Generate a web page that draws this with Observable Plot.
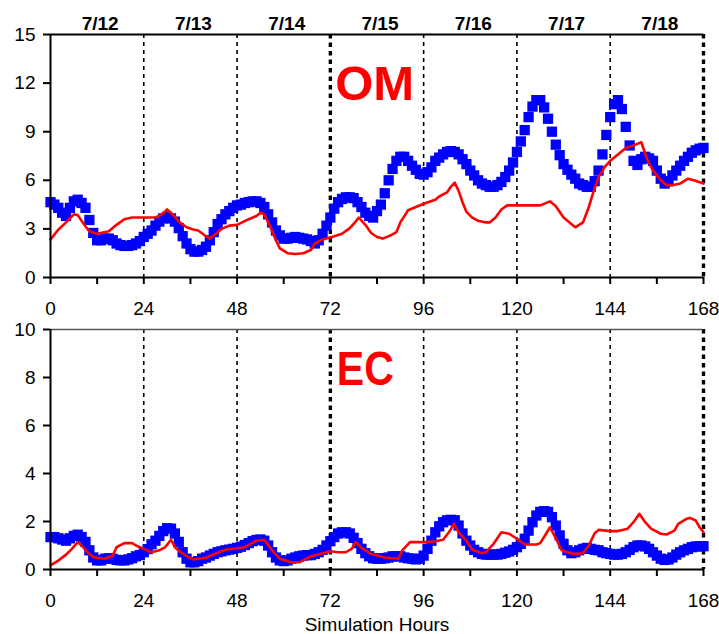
<!DOCTYPE html>
<html><head><meta charset="utf-8">
<script src="https://cdn.jsdelivr.net/npm/d3@7"></script>
<script src="https://cdn.jsdelivr.net/npm/@observablehq/plot@0.6"></script>
<style>body{margin:0;background:#fff} svg{display:block}</style>
</head><body><div id="chart"></div>
<script>
const hourTicks = [0, 24, 48, 72, 96, 120, 144, 168];
const minorTicks = [0, 12, 24, 36, 48, 60, 72, 84, 96, 108, 120, 132, 144, 156, 168];
const thinDayLines = [24, 48, 96, 120, 144];
const boldDayLines = [72, 168];
const dayLabels = ["7/12", "7/13", "7/14", "7/15", "7/16", "7/17", "7/18"];
const dayCenters = [12, 36, 60, 84, 108, 132, 156];
const omTicks = [0, 3, 6, 9, 12, 15];
const ecTicks = [0, 2, 4, 6, 8, 10];

// observed OM, hourly 0..168
const omObs = [4.65,4.5,4.3,4.0,3.8,4.3,4.7,4.8,4.6,4.3,3.55,2.75,2.3,2.3,2.4,2.4,2.3,2.1,2.0,1.95,
1.95,2.0,2.1,2.25,2.5,2.7,2.9,3.2,3.45,3.65,3.75,3.65,3.45,3.05,2.55,2.1,1.75,1.6,1.6,1.7,
1.9,2.3,2.8,3.3,3.6,3.9,4.1,4.3,4.45,4.5,4.6,4.65,4.7,4.7,4.6,4.35,3.9,3.4,2.9,2.6,
2.4,2.4,2.45,2.5,2.45,2.4,2.35,2.25,2.1,2.3,2.7,3.2,3.7,4.25,4.65,4.85,4.95,4.95,4.9,4.65,
4.35,4.0,3.8,3.7,4.1,4.5,5.2,6.0,6.7,7.2,7.45,7.45,7.2,6.9,6.65,6.4,6.35,6.5,6.8,7.2,
7.4,7.6,7.75,7.8,7.75,7.6,7.3,7.0,6.6,6.3,6.0,5.8,5.7,5.6,5.6,5.7,5.9,6.2,6.6,7.1,
7.75,8.4,9.1,9.9,10.55,10.95,10.95,10.5,9.8,9.0,8.2,7.55,7.0,6.65,6.35,6.1,5.8,5.7,5.6,5.6,
5.95,6.6,7.6,8.8,9.9,10.7,10.95,10.4,9.3,8.15,7.2,6.95,7.3,7.45,7.35,7.2,6.6,6.1,5.8,5.95,
6.3,6.6,6.9,7.2,7.45,7.7,7.85,7.95,8.0];

// observed EC, hourly 0..168
const ecObs = [1.35,1.35,1.3,1.25,1.2,1.3,1.4,1.45,1.35,1.15,0.8,0.5,0.38,0.38,0.45,0.47,0.45,0.4,0.38,0.38,
0.42,0.47,0.55,0.6,0.72,0.85,1.05,1.2,1.4,1.6,1.72,1.7,1.5,1.15,0.72,0.45,0.3,0.3,0.35,0.45,
0.5,0.58,0.65,0.72,0.76,0.8,0.83,0.86,0.9,0.95,1.02,1.1,1.18,1.23,1.25,1.2,1.0,0.72,0.5,0.38,
0.35,0.38,0.45,0.5,0.55,0.58,0.6,0.6,0.65,0.72,0.82,1.0,1.18,1.35,1.5,1.55,1.55,1.5,1.32,1.1,
0.86,0.68,0.55,0.47,0.45,0.45,0.47,0.5,0.55,0.55,0.55,0.5,0.47,0.45,0.42,0.45,0.58,0.86,1.2,1.55,
1.8,1.97,2.05,2.07,2.05,1.83,1.5,1.2,1.0,0.82,0.72,0.65,0.62,0.62,0.62,0.62,0.65,0.7,0.75,0.82,
0.93,1.07,1.28,1.62,1.97,2.25,2.4,2.43,2.4,2.18,1.83,1.42,1.07,0.8,0.68,0.72,0.8,0.86,0.9,0.86,
0.82,0.8,0.72,0.68,0.65,0.62,0.62,0.65,0.72,0.82,0.93,1.0,1.0,0.96,0.86,0.72,0.58,0.45,0.4,0.42,
0.5,0.62,0.72,0.8,0.86,0.93,0.96,0.97,0.97,0.96];

// modeled OM [hour, value]
const omModel = [[0,2.35],[2,2.95],[4,3.4],[6,3.9],[7,3.85],[9,3.15],[10,2.85],[12,2.7],[15,2.85],[17,3.25],[19,3.6],[21,3.7],[27,3.7],[29,3.95],[30,4.2],[32,3.75],[33,3.45],[35,3.1],[37,2.95],[38,2.9],[40,2.55],[41,2.4],[42,2.6],[44,3.0],[46,3.2],[48,3.25],[51,3.6],[53,3.8],[54,4.0],[55,3.9],[56.5,3.15],[58,2.3],[59,1.8],[61,1.5],[63,1.45],[65,1.5],[67,1.7],[68,2.1],[70,2.35],[73,2.55],[75,2.7],[77,3.05],[78.5,3.45],[79.3,3.7],[81,3.25],[82.5,2.75],[84,2.5],[85.5,2.4],[87.5,2.6],[89,2.8],[90,3.4],[92,4.15],[94,4.35],[96,4.55],[99,4.8],[100,5.0],[102,5.25],[103,5.6],[104,5.85],[105,5.35],[106,4.65],[107,4.05],[108.5,3.7],[110,3.5],[112,3.4],[113,3.4],[114.5,3.7],[116,4.2],[117.5,4.45],[126,4.45],[128.5,4.7],[130,4.4],[132,3.7],[134,3.3],[135,3.1],[137,3.4],[138.5,4.35],[139.5,5.15],[141,6.2],[142.5,6.8],[144,7.2],[146,7.6],[148,8.0],[150.5,8.2],[152,8.35],[153.5,7.3],[155,6.6],[157,6.0],[158.5,5.7],[160,5.7],[162,5.8],[164,6.1],[165.5,6.0],[168,5.8]];

// modeled EC [hour, value]
const ecModel = [[0,0.17],[2,0.37],[4,0.62],[5.5,0.86],[7,1.14],[8,1.0],[9.5,0.72],[11,0.51],[14,0.45],[16,0.58],[17,0.93],[19,1.1],[21,1.1],[22,1.0],[24,0.86],[26,0.72],[28,0.8],[29.5,0.93],[31,1.24],[32,0.93],[33.5,0.72],[35.5,0.51],[37,0.42],[40,0.5],[45,0.82],[50,0.93],[53,1.2],[55,1.24],[57,0.8],[59,0.45],[62,0.3],[64,0.3],[67,0.55],[72,0.76],[74,0.72],[76,0.72],[77.5,0.86],[78.5,1.14],[80,0.9],[82.5,0.65],[86,0.5],[89.5,0.45],[90.5,0.8],[92.5,1.14],[96.5,1.14],[99,1.18],[101,1.24],[102.5,1.55],[103.8,1.9],[105,1.55],[107,1.2],[108.5,0.82],[111,0.68],[112,0.72],[114,1.07],[116,1.55],[118,1.49],[120,1.28],[122,1.04],[125,1.04],[126,1.1],[127.5,1.49],[128.5,1.76],[130,1.3],[131.5,0.8],[134.5,0.65],[137,0.68],[138.5,1.0],[140,1.51],[141,1.65],[144,1.6],[146,1.6],[148.5,1.7],[150,1.97],[151.5,2.32],[153,1.97],[154.5,1.7],[157,1.49],[158.5,1.46],[160.5,1.62],[161.5,1.9],[163.5,2.1],[164.5,2.15],[166,2.04],[167,1.76],[168,1.55]];

const font = "'Liberation Sans', Arial, sans-serif";
const hours = d3.range(omObs.length);

function panel(o) {
  const obs = o.obs.map((v, i) => ({h: hours[i], v}));
  const mod = o.model.map(([h, v]) => ({h, v}));
  const marks = [
    Plot.ruleX(thinDayLines, {stroke: "black", strokeWidth: 1.6, strokeDasharray: "4,4"}),
    Plot.ruleX(boldDayLines, {stroke: "black", strokeWidth: 3.4, strokeDasharray: "4.5,4"}),
    Plot.ruleY([o.yMax], {stroke: o.topColor, strokeWidth: o.topWidth}),
    Plot.dot(obs, {x: "h", y: "v", symbol: "square", r: 5.8, fill: "#0000ff", stroke: null}),
    Plot.line(mod, {x: "h", y: "v", stroke: "#ff0000", strokeWidth: 2.6}),
    Plot.ruleX([0], {stroke: "black", strokeWidth: 2}),
    Plot.ruleY([0], {stroke: "black", strokeWidth: 2}),
    Plot.axisY(o.yTicks, {tickSize: 7, tickPadding: 8, strokeWidth: 2, fontSize: 19, label: null}),
    Plot.axisX(minorTicks, {tickSize: 7, strokeWidth: 2, tickFormat: () => "", label: null}),
    Plot.axisX(hourTicks, {tickSize: 0, tickPadding: 24, fontSize: 19, label: null}),
    Plot.text([o.label], {x: o.labelX, y: o.labelY, fill: "#ff0000", fontWeight: "bold", fontSize: 49, lineAnchor: "middle", className: "panel-label"})
  ];
  if (o.days) marks.push(Plot.text(dayLabels, {x: (d, i) => dayCenters[i], frameAnchor: "top", dy: -10.5, dx: 3, lineAnchor: "middle", fontWeight: "bold", fontSize: 19}));
  if (o.xlabel) marks.push(Plot.text([o.xlabel], {frameAnchor: "bottom", dy: 55, lineAnchor: "middle", fontSize: 19}));
  const svg = Plot.plot({
    width: 719, height: o.height,
    marginLeft: 50, marginRight: 16, marginTop: o.marginTop, marginBottom: o.marginBottom,
    style: {fontFamily: font, fontSize: "19px", color: "black", background: "white"},
    x: {domain: [0, 168], axis: null},
    y: {domain: [0, o.yMax], axis: null},
    marks
  });
  if (o.labelWidth) {
    d3.select(svg).selectAll(".panel-label text")
      .attr("textLength", o.labelWidth).attr("lengthAdjust", "spacingAndGlyphs");
  }
  return svg;
}

const chart = document.getElementById("chart");
chart.append(panel({obs: omObs, model: omModel, yMax: 15, yTicks: omTicks, label: "OM", labelX: 83.4, labelY: 11.9,
  height: 318, marginTop: 34, marginBottom: 41, days: true, topColor: "black", topWidth: 2}));
chart.append(panel({obs: ecObs, model: ecModel, yMax: 10, yTicks: ecTicks, label: "EC", labelX: 81, labelY: 8.33, labelWidth: 57,
  height: 316, marginTop: 11, marginBottom: 65, xlabel: "Simulation Hours", topColor: "#555", topWidth: 1.5}));
</script>
</body></html>
